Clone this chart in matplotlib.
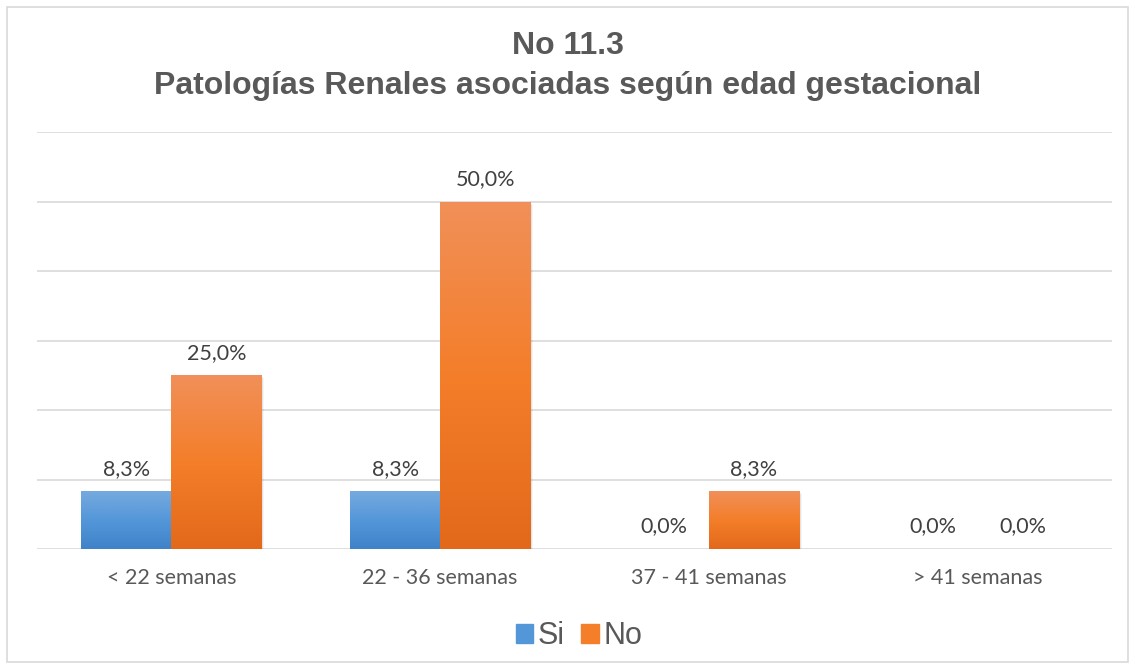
import numpy as np
import matplotlib.pyplot as plt
from matplotlib.colors import LinearSegmentedColormap
from matplotlib.patches import Rectangle
import matplotlib.transforms as mtransforms

# chart data
categories = ['< 22 semanas', '22 - 36 semanas', '37 - 41 semanas', '> 41 semanas']
si_vals = [8.3, 8.3, 0.0, 0.0]
no_vals = [25.0, 50.0, 8.3, 0.0]
series_names = ['Si', 'No']

# gradient colors (top -> bottom)
blue_grad = ['#76aadf', '#5497d9', '#3f82c8']
orange_grad = ['#f19059', '#f47e2a', '#e2691a']

fig = plt.figure(figsize=(11.35, 6.69), dpi=100)
ax = fig.add_axes([37 / 1135, 120 / 669, 1075 / 1135, 417 / 669])

# chart border
fig.patches.append(Rectangle((7 / 1135, 7 / 669), 1121 / 1135, 655 / 669,
                             transform=fig.transFigure, fill=False,
                             edgecolor='#d9d9d9', linewidth=1.2))

x = np.arange(len(categories))
w = 0.335


def gradient_bars(xpos, vals, colors):
    cmap = LinearSegmentedColormap.from_list('g', colors)
    bars = ax.bar(xpos, vals, w, color='none', edgecolor='none', zorder=3)
    grad = np.linspace(0, 1, 256).reshape(-1, 1)
    for b in bars:
        h = b.get_height()
        if h <= 0:
            continue
        x0 = b.get_x()
        # soft shadow
        for k, a in ((1, 0.10), (2, 0.07), (3, 0.04)):
            off = mtransforms.offset_copy(ax.transData, fig=fig, x=k, y=-k, units='dots')
            ax.add_patch(Rectangle((x0, 0), b.get_width(), h, transform=off,
                                   facecolor='black', alpha=a, edgecolor='none', zorder=2))
        im = ax.imshow(grad, cmap=cmap, aspect='auto', zorder=3,
                       extent=[x0, x0 + b.get_width(), 0, h], origin='upper')
        im.set_clip_path(b)
    return bars


gradient_bars(x - w / 2, si_vals, blue_grad)
gradient_bars(x + w / 2, no_vals, orange_grad)

# data labels
for xs, vals in ((x - w / 2, si_vals), (x + w / 2, no_vals)):
    for xi, v in zip(xs, vals):
        ax.annotate(f'{v:.1f}%'.replace('.', ','), (xi, v), xytext=(0, 9),
                    textcoords='offset points', ha='center', va='bottom',
                    fontsize=15.5, family='Lato', color='#404040')

ax.set_xlim(-0.5, 3.5)
ax.set_ylim(0, 60)
ax.set_yticks(np.arange(0, 61, 10))
ax.yaxis.grid(True, color='#d9d9d9', linewidth=1.2)
ax.set_axisbelow(True)
ax.tick_params(left=False, bottom=False, labelleft=False)
ax.set_xticks(x)
ax.set_xticklabels(categories, fontsize=15.5, family='Lato', color='#595959')
ax.tick_params(axis='x', pad=10)
for s in ax.spines.values():
    s.set_visible(False)

# title
fig.text(0.5, 1 - 46 / 669, 'No 11.3', ha='center', va='center', fontsize=23,
         fontweight='bold', family='Liberation Sans', color='#595959')
fig.text(0.5, 1 - 86 / 669, 'Patologías Renales asociadas según edad gestacional',
         ha='center', va='center', fontsize=23, fontweight='bold',
         family='Liberation Sans', color='#595959')

# legend
handles = [Rectangle((0, 0), 1, 1, color=blue_grad[1]),
           Rectangle((0, 0), 1, 1, color=orange_grad[1])]
fig.legend(handles, series_names, loc='center', bbox_to_anchor=(579 / 1135, 1 - 636 / 669),
           ncol=2, frameon=False, handlelength=0.56, handleheight=0.56,
           handletextpad=0.15, columnspacing=0.55,
           prop={'family': 'Liberation Sans', 'size': 22}, labelcolor='#595959')

fig.savefig('out.png', dpi=100)
